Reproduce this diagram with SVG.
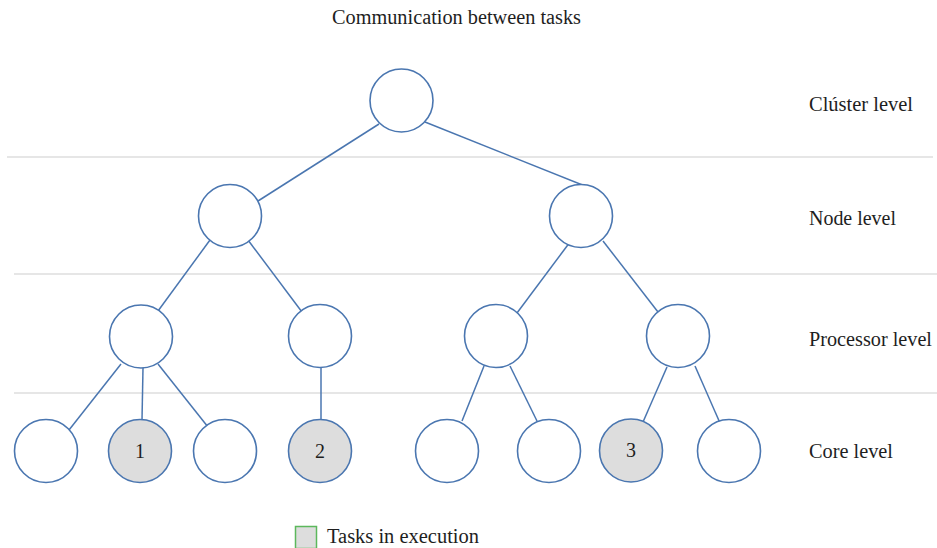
<svg xmlns="http://www.w3.org/2000/svg" width="937" height="548" viewBox="0 0 937 548">
<style>
.sep{stroke:#e6e6e6;stroke-width:2;fill:none}
.n{fill:#ffffff;stroke:#4a76b0;stroke-width:1.6}
.g{fill:#dddddd;stroke:#4a76b0;stroke-width:1.6}
.e{stroke:#4a76b0;stroke-width:1.5;fill:none}
text{font-family:"Liberation Serif","Times New Roman",serif;font-size:20px;fill:#1e1e1e}
.c{text-anchor:middle}
</style>
<rect width="937" height="548" fill="#ffffff"/>
<g id="separators">
<line class="sep" x1="7" y1="157" x2="933" y2="157"/>
<line class="sep" x1="14" y1="274" x2="937" y2="274"/>
<line class="sep" x1="14" y1="393" x2="937" y2="393"/>
</g>
<text id="title" x="332" y="24" textLength="249" lengthAdjust="spacingAndGlyphs">Communication between tasks</text>
<g id="connectors">
<line class="e" x1="379" y1="124" x2="258" y2="201"/>
<line class="e" x1="425" y1="122" x2="600" y2="192"/>
<line class="e" x1="210" y1="240" x2="158" y2="311"/>
<line class="e" x1="248" y1="240" x2="302" y2="312"/>
<line class="e" x1="570" y1="242" x2="517" y2="313"/>
<line class="e" x1="603" y1="241" x2="658" y2="312"/>
<line class="e" x1="121" y1="364" x2="69" y2="430"/>
<line class="e" x1="143" y1="368" x2="142" y2="420"/>
<line class="e" x1="158" y1="364" x2="208" y2="427"/>
<line class="e" x1="321" y1="368" x2="321" y2="420"/>
<line class="e" x1="484" y1="366" x2="462" y2="421"/>
<line class="e" x1="510" y1="366" x2="537" y2="421"/>
<line class="e" x1="667" y1="367" x2="643" y2="422"/>
<line class="e" x1="695" y1="366" x2="720" y2="423"/>
</g>
<g id="cluster"><circle class="n" cx="401.5" cy="100.5" r="31.5"/></g>
<g id="node-left"><circle class="n" cx="230" cy="216" r="31.5"/></g>
<g id="node-right"><circle class="n" cx="581" cy="216" r="31.5"/></g>
<g id="proc-1"><circle class="n" cx="141" cy="336.5" r="31.5"/></g>
<g id="proc-2"><circle class="n" cx="320" cy="336" r="31.5"/></g>
<g id="proc-3"><circle class="n" cx="496" cy="336" r="31.5"/></g>
<g id="proc-4"><circle class="n" cx="678" cy="336" r="31.5"/></g>
<g id="core-a"><circle class="n" cx="46" cy="451" r="31.5"/></g>
<g id="core-1"><circle class="g" cx="140" cy="451" r="31.5"/><text class="c" x="140" y="458">1</text></g>
<g id="core-b"><circle class="n" cx="225" cy="451" r="31.5"/></g>
<g id="core-2"><circle class="g" cx="320" cy="451" r="31.5"/><text class="c" x="320" y="458">2</text></g>
<g id="core-c"><circle class="n" cx="447" cy="451" r="31.5"/></g>
<g id="core-d"><circle class="n" cx="549" cy="451" r="31.5"/></g>
<g id="core-3"><circle class="g" cx="631" cy="450.5" r="31.5"/><text class="c" x="631" y="457">3</text></g>
<g id="core-e"><circle class="n" cx="729" cy="451" r="31.5"/></g>
<g id="levels">
<text x="809" y="111" textLength="104" lengthAdjust="spacingAndGlyphs">Clúster level</text>
<text x="809" y="225" textLength="87" lengthAdjust="spacingAndGlyphs">Node level</text>
<text x="809" y="346" textLength="123" lengthAdjust="spacingAndGlyphs">Processor level</text>
<text x="809" y="458" textLength="84" lengthAdjust="spacingAndGlyphs">Core level</text>
</g>
<g id="legend">
<rect x="295.5" y="526.5" width="21" height="22" fill="#dddddd" stroke="#5cb85c" stroke-width="1.5"/>
<text x="327" y="543" textLength="152" lengthAdjust="spacingAndGlyphs">Tasks in execution</text>
</g>
</svg>
